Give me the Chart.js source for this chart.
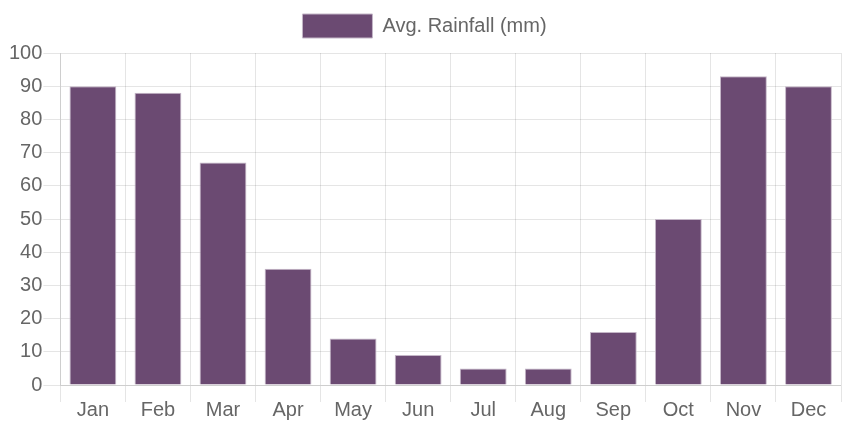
<!DOCTYPE html>
<html><head><meta charset="utf-8">
<script src="https://cdn.jsdelivr.net/npm/chart.js@4"></script>
<style>html,body{margin:0;padding:0;background:#fff}#w{width:861px;height:430px}</style>
</head><body><div id="w"><canvas id="c"></canvas></div>
<script>
const months = ["Jan","Feb","Mar","Apr","May","Jun","Jul","Aug","Sep","Oct","Nov","Dec"];
const rainfall = [90, 88, 67, 35, 14, 9, 5, 5, 16, 50, 93, 90];
const seriesLabel = "Avg. Rainfall (mm)";
Chart.defaults.font.family = "'Liberation Sans', Arial, sans-serif";
Chart.defaults.font.size = 20;
Chart.defaults.color = "#666";
const legendGap = {
  id: 'legendGap',
  beforeInit(chart) {
    const origFit = chart.legend.fit;
    chart.legend.fit = function () { origFit.call(this); this.height += 5; };
  }
};
new Chart(document.getElementById('c'), {
  type: 'bar',
  data: { labels: months, datasets: [{ label: seriesLabel, data: rainfall,
    backgroundColor: '#6b4a72', borderColor: '#c4b6c7', borderWidth: 1 }] },
  options: {
    responsive: true, maintainAspectRatio: false, animation: false,
    layout: { padding: { left: 8, right: 20, top: 4, bottom: 4 } },
    plugins: { legend: { labels: { boxWidth: 70, boxHeight: 24 } }, tooltip: { enabled: false } },
    scales: {
      y: { min: 0, max: 100, ticks: { stepSize: 10, padding: 1 }, grid: { tickLength: 17 } },
      x: { ticks: { padding: -4 }, grid: { tickLength: 17 },
           afterFit(scale) { scale.height += 8; } }
    }
  },
  plugins: [legendGap]
});
</script></body></html>
